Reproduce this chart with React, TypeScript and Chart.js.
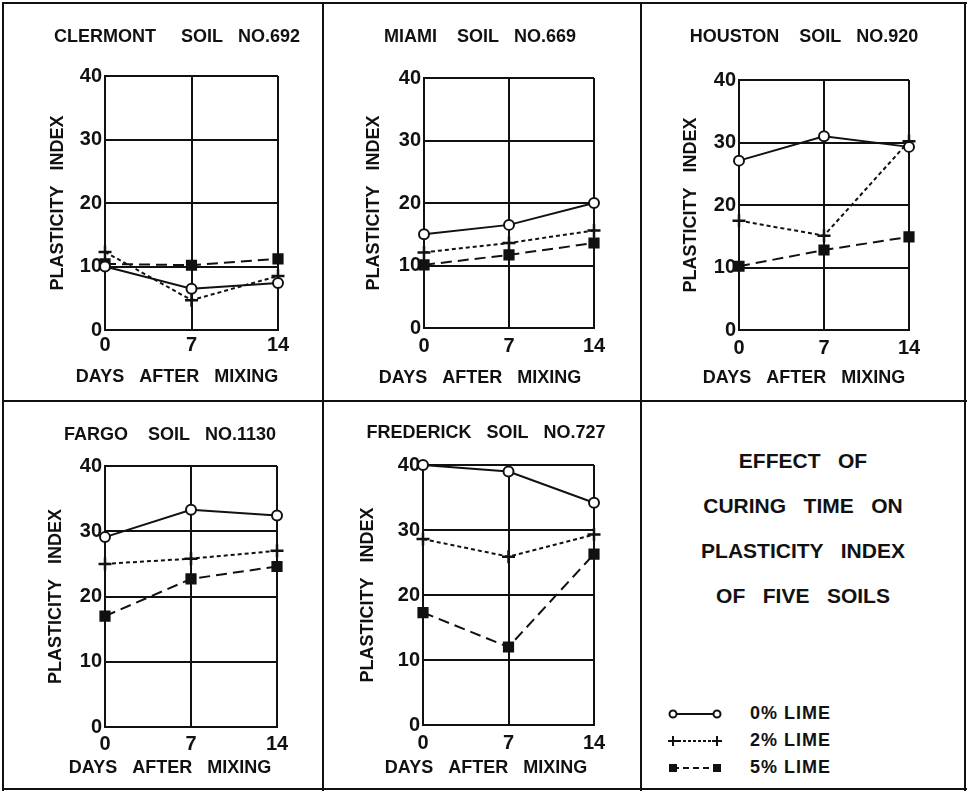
import React, { useEffect, useRef } from "react";
import { Chart, registerables } from "chart.js";

Chart.register(...registerables);

// ---------- data ----------
const DAYS = [0, 7, 14];
const SERIES_LABELS = ["0% LIME", "2% LIME", "5% LIME"];
const Y_MIN = 0;
const Y_MAX = 40;
const Y_STEP = 10;
const X_STEP = 7;

const PANEL_TITLES = [
  "CLERMONT     SOIL   NO.692",
  "MIAMI    SOIL   NO.669",
  "HOUSTON    SOIL   NO.920",
  "FARGO    SOIL   NO.1130",
  "FREDERICK   SOIL   NO.727",
];
const Y_TITLE = "PLASTICITY   INDEX";
const X_TITLE = "DAYS   AFTER   MIXING";
const NOTE_LINES = ["EFFECT   OF", "CURING   TIME   ON", "PLASTICITY   INDEX", "OF   FIVE   SOILS"];

const CLERMONT_0 = [10, 6.5, 7.4];
const CLERMONT_2 = [12.3, 4.7, 8.5];
const CLERMONT_5 = [10.4, 10.2, 11.2];

const MIAMI_0 = [15, 16.5, 20];
const MIAMI_2 = [12.1, 13.6, 15.6];
const MIAMI_5 = [10.1, 11.7, 13.6];

const HOUSTON_0 = [27.1, 31, 29.3];
const HOUSTON_2 = [17.5, 15.1, 30.2];
const HOUSTON_5 = [10.2, 12.8, 14.9];

const FARGO_0 = [29.1, 33.3, 32.4];
const FARGO_2 = [25, 25.8, 27];
const FARGO_5 = [17, 22.7, 24.6];

const FREDERICK_0 = [40, 39, 34.2];
const FREDERICK_2 = [28.6, 25.9, 29.3];
const FREDERICK_5 = [17.3, 12, 26.3];

const PANEL_SERIES = [
  [CLERMONT_0, CLERMONT_2, CLERMONT_5],
  [MIAMI_0, MIAMI_2, MIAMI_5],
  [HOUSTON_0, HOUSTON_2, HOUSTON_5],
  [FARGO_0, FARGO_2, FARGO_5],
  [FREDERICK_0, FREDERICK_2, FREDERICK_5],
];

// ---------- layout & style ----------
type Spec = {
  cell: number[];
  plot: number[];
  titleX: number;
  titleY: number;
  yTitleX: number;
  xTickY: number;
  xTitleY: number;
};

const LAYOUTS: Spec[] = [
  { cell: [4, 4, 322, 400], plot: [105, 76, 278, 330], titleX: 177, titleY: 37, yTitleX: 58, xTickY: 345, xTitleY: 377 },
  { cell: [324, 4, 640, 400], plot: [424, 78, 594, 328], titleX: 480, titleY: 37, yTitleX: 374, xTickY: 346, xTitleY: 378 },
  { cell: [642, 4, 964, 400], plot: [739, 80, 909, 330], titleX: 804, titleY: 37, yTitleX: 691, xTickY: 348, xTitleY: 378 },
  { cell: [4, 402, 322, 787], plot: [105, 466, 277, 727], titleX: 170, titleY: 435, yTitleX: 56, xTickY: 744, xTitleY: 768 },
  { cell: [324, 402, 640, 787], plot: [423, 465, 594, 725], titleX: 486, titleY: 433, yTitleX: 368, xTickY: 743, xTitleY: 768 },
];

const INK = "#111111";
const FONT = "'Liberation Sans', Arial, sans-serif";
const TITLE_SIZE = 18;
const YTITLE_SIZE = 18;
const XTITLE_SIZE = 18;
const TICK_SIZE = 20;
const LH = 1.2;
const X_AXIS_H = 26;

const DASHES = [[], [4, 3], [11, 6]];
const POINT_STYLES = ["circle", "cross", "rect"];

function Panel({ idx }: { idx: number }) {
  const ref = useRef<HTMLCanvasElement | null>(null);
  const spec = LAYOUTS[idx];
  const [cx0, cy0, cx1, cy1] = spec.cell;
  const [pl, pt, pr, pb] = spec.plot;
  const cw = cx1 - cx0;
  const ch = cy1 - cy0;

  useEffect(() => {
    if (!ref.current) return;
    // full-width boxes (title + x title) centred on titleX
    const half = Math.min(spec.titleX - cx0, cx1 - spec.titleX);
    const padL = spec.titleX - half - cx0;
    const padR = cx1 - (spec.titleX + half);
    const yAxisW = pl - cx0 - padL;
    const rightW = cx1 - padR - pr;

    const tLH = TITLE_SIZE * LH;
    const titlePadTop = spec.titleY - cy0 - tLH / 2;
    const titlePadBottom = pt - cy0 - tLH - titlePadTop;

    const yLH = YTITLE_SIZE * LH;
    const yTitlePad = spec.yTitleX - (cx0 + padL) - yLH / 2;

    const xLH = XTITLE_SIZE * LH;
    const subTop = pb + X_AXIS_H;
    const subPadTop = spec.xTitleY - subTop - xLH / 2;
    const padB = cy1 - (subTop + subPadTop + xLH);

    const tickLH = TICK_SIZE * LH;
    const xTickPad = spec.xTickY - pb - tickLH / 2;

    const series = PANEL_SERIES[idx];
    const chart = new Chart(ref.current, {
      type: "line",
      data: {
        datasets: series.map((vals, i) => ({
          label: SERIES_LABELS[i],
          data: DAYS.map((d, j) => ({ x: d, y: vals[j] })),
          borderColor: INK,
          borderWidth: 2,
          borderDash: DASHES[i],
          tension: 0,
          fill: false,
          clip: false,
          pointStyle: POINT_STYLES[i],
          pointRadius: i === 0 ? 5 : 6.5,
          pointBorderWidth: i === 1 ? 2.5 : 2,
          pointBorderColor: INK,
          pointBackgroundColor: i === 0 ? "#ffffff" : INK,
        })),
      },
      options: {
        responsive: false,
        animation: false,
        devicePixelRatio: 1,
        events: [],
        layout: { padding: { left: padL, right: padR, top: 0, bottom: padB } },
        plugins: {
          legend: { display: false },
          tooltip: { enabled: false },
          title: {
            display: true,
            text: PANEL_TITLES[idx],
            color: INK,
            font: { family: FONT, size: TITLE_SIZE, weight: "bold" },
            padding: { top: titlePadTop, bottom: titlePadBottom },
          },
          subtitle: {
            display: true,
            position: "bottom",
            text: X_TITLE,
            color: INK,
            font: { family: FONT, size: XTITLE_SIZE, weight: "bold" },
            padding: { top: subPadTop, bottom: 0 },
          },
        },
        scales: {
          x: {
            type: "linear",
            min: DAYS[0],
            max: DAYS[DAYS.length - 1],
            ticks: {
              stepSize: X_STEP,
              color: INK,
              font: { family: FONT, size: TICK_SIZE, weight: "bold" },
              padding: xTickPad,
              maxRotation: 0,
              autoSkip: false,
            },
            grid: { color: INK, lineWidth: 2, drawTicks: false },
            border: { color: INK, width: 2 },
            afterFit: (s: any) => {
              s.height = X_AXIS_H;
              s.paddingLeft = 0;
              s.paddingRight = 0;
            },
          },
          y: {
            type: "linear",
            position: "left",
            min: Y_MIN,
            max: Y_MAX,
            ticks: {
              stepSize: Y_STEP,
              color: INK,
              font: { family: FONT, size: TICK_SIZE, weight: "bold" },
              padding: 3,
            },
            grid: { color: INK, lineWidth: 2, drawTicks: false },
            border: { color: INK, width: 2 },
            title: {
              display: true,
              text: Y_TITLE,
              color: INK,
              font: { family: FONT, size: YTITLE_SIZE, weight: "bold" },
              padding: { top: yTitlePad, bottom: 0 },
            },
            afterFit: (s: any) => {
              s.width = yAxisW;
              s.paddingTop = 0;
              s.paddingBottom = 0;
            },
          },
          yRight: {
            type: "linear",
            position: "right",
            min: Y_MIN,
            max: Y_MAX,
            ticks: { display: false },
            grid: { display: false, drawTicks: false },
            border: { display: false },
            afterFit: (s: any) => {
              s.width = rightW;
              s.paddingTop = 0;
              s.paddingBottom = 0;
            },
          },
        },
      } as any,
    });
    return () => chart.destroy();
  }, []);

  return (
    <canvas
      ref={ref}
      width={cw}
      height={ch}
      style={{ position: "absolute", left: cx0, top: cy0, width: cw, height: ch }}
    />
  );
}

function LegendSymbol({ kind }: { kind: number }) {
  const y = 7;
  const x0 = 5;
  const x1 = 49;
  return (
    <svg width={56} height={14} style={{ display: "block" }}>
      <line
        x1={x0}
        y1={y}
        x2={x1}
        y2={y}
        stroke={INK}
        strokeWidth={2}
        strokeDasharray={kind === 0 ? undefined : kind === 1 ? "3 2" : "6 4"}
      />
      {[x0, x1].map((x, k) =>
        kind === 0 ? (
          <circle key={k} cx={x} cy={y} r={3.5} fill="#fff" stroke={INK} strokeWidth={2} />
        ) : kind === 1 ? (
          <g key={k} stroke={INK} strokeWidth={2}>
            <line x1={x - 5} y1={y} x2={x + 5} y2={y} />
            <line x1={x} y1={y - 5} x2={x} y2={y + 5} />
          </g>
        ) : (
          <rect key={k} x={x - 4} y={y - 4} width={8} height={8} fill={INK} />
        )
      )}
    </svg>
  );
}

const LINES_H = [3, 401, 789];
const LINES_V = [3, 323, 641, 965];

export default function App() {
  return (
    <div
      style={{
        position: "absolute",
        left: 0,
        top: 0,
        width: 969,
        height: 796,
        background: "#ffffff",
        overflow: "hidden",
        fontFamily: FONT,
        color: INK,
      }}
    >
      {LAYOUTS.map((_, i) => (
        <Panel key={i} idx={i} />
      ))}

      {/* note panel */}
      <div style={{ position: "absolute", left: 642, top: 438, width: 322, textAlign: "center" }}>
        {NOTE_LINES.map((t, i) => (
          <div
            key={i}
            style={{
              height: 45,
              lineHeight: "45px",
              fontSize: 21,
              fontWeight: "bold",
              whiteSpace: "pre",
            }}
          >
            {t}
          </div>
        ))}
      </div>
      <div style={{ position: "absolute", left: 668, top: 700 }}>
        {SERIES_LABELS.map((label, i) => (
          <div key={i} style={{ display: "flex", alignItems: "center", height: 27 }}>
            <LegendSymbol kind={i} />
            <span style={{ marginLeft: 26, fontSize: 18, fontWeight: "bold", letterSpacing: 1 }}>{label}</span>
          </div>
        ))}
      </div>

      {LINES_H.map((y, i) => (
        <div key={"h" + i} style={{ position: "absolute", left: 2, top: y - 1, width: 965, height: 2, background: INK }} />
      ))}
      {LINES_V.map((x, i) => (
        <div key={"v" + i} style={{ position: "absolute", left: x - 1, top: 2, width: 2, height: 789, background: INK }} />
      ))}
    </div>
  );
}
